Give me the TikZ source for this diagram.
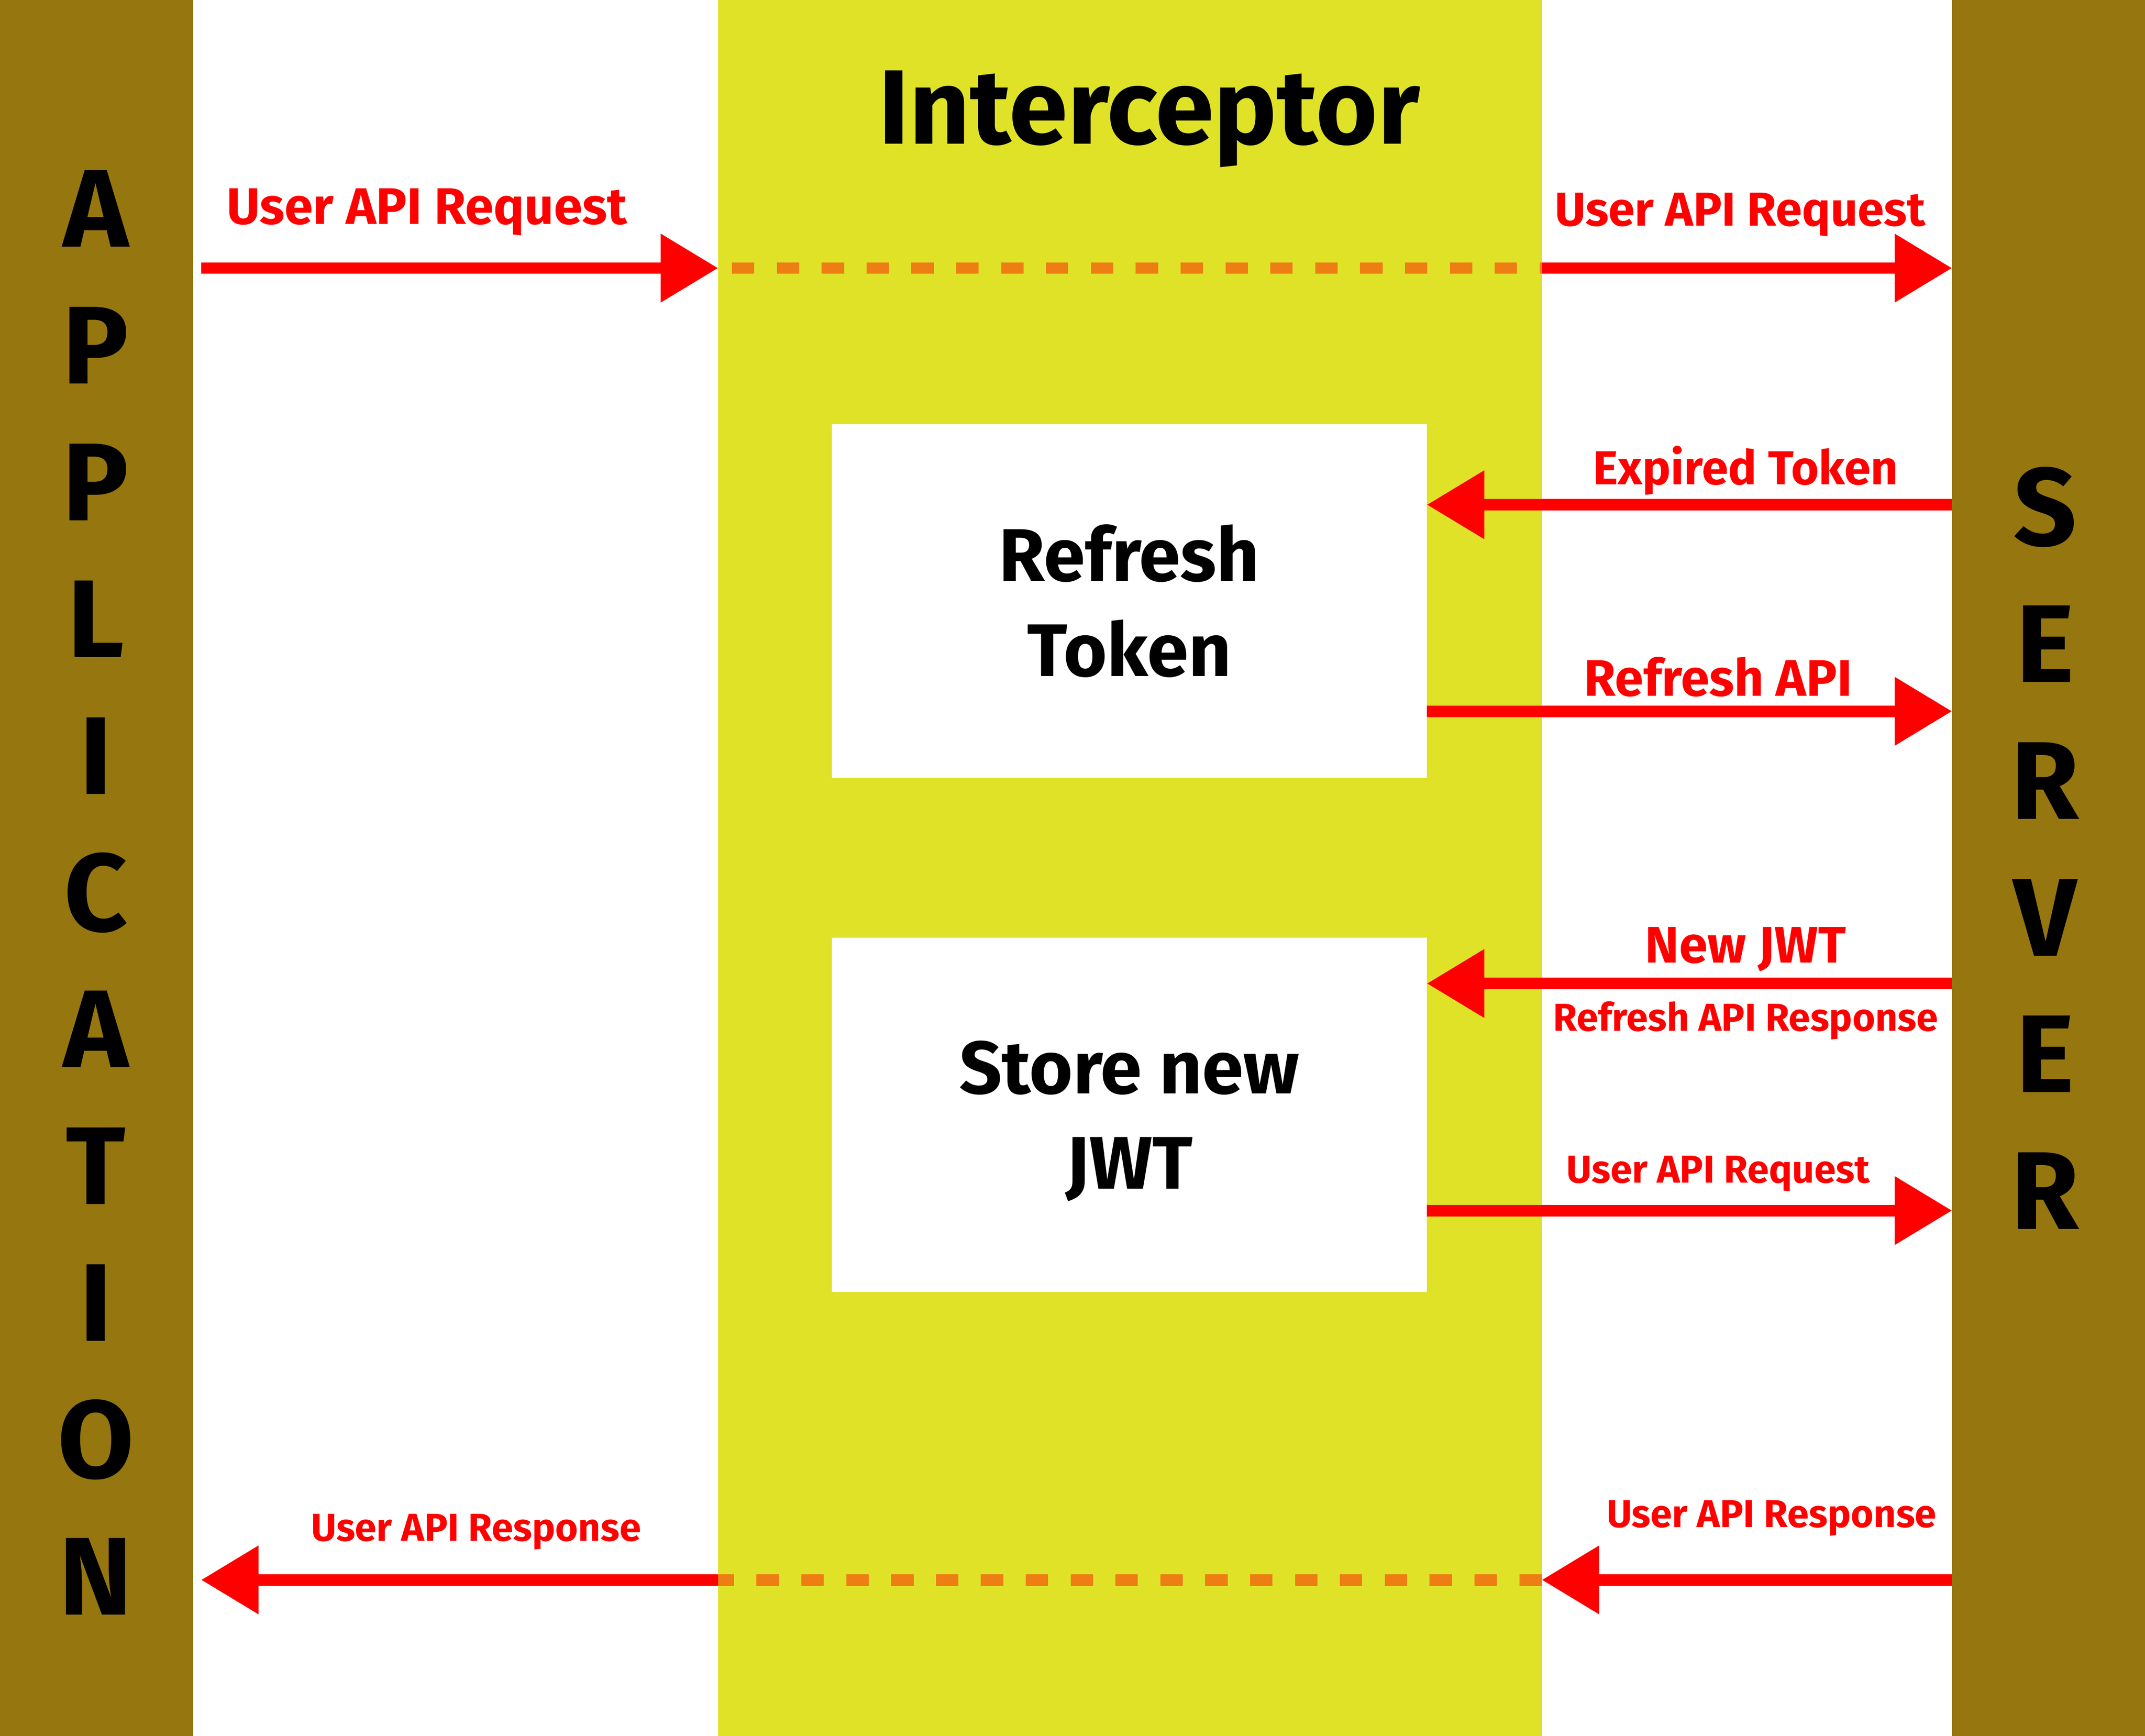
\documentclass[tikz,border=0pt]{standalone}
\usepackage{fontspec}
\setmainfont{Fira Sans}
\usetikzlibrary{arrows.meta}
\definecolor{barbrown}{RGB}{150,118,14}
\definecolor{bandyellow}{RGB}{224,226,40}
\definecolor{dashorange}{RGB}{238,125,20}
\tikzset{
  bar/.style={fill=barbrown, minimum width=1.41cm, minimum height=12.69cm, inner sep=0pt, outer sep=0pt},
  band/.style={fill=bandyellow, minimum width=6.02cm, minimum height=12.69cm, inner sep=0pt, outer sep=0pt},
  bigletters/.style={font=\bfseries\fontsize{23}{28.45}\selectfont, align=center, inner sep=0pt},
  title/.style={font=\bfseries\fontsize{22}{26}\selectfont},
  box/.style={fill=white, minimum width=4.35cm, minimum height=2.59cm, inner sep=0pt, outer sep=0pt, align=center, font=\bfseries\fontsize{15.5}{19.8}\selectfont},
  msg/.style={red, line width=2.4pt, -{Triangle[length=4.2mm, width=4.8mm]}},
  pass/.style={dashorange, line width=2.4pt, dash pattern=on 1.64mm off 1.64mm},
  biglabel/.style={red, font=\bfseries\fontsize{10.7}{13}\selectfont},
  midlabel/.style={red, font=\bfseries\fontsize{9.9}{12}\selectfont},
  smalllabel/.style={red, font=\bfseries\fontsize{8.1}{10}\selectfont}
}
\begin{document}
\begin{tikzpicture}
\useasboundingbox (0,0) rectangle (15.68,12.69);
\fill[white] (0,0) rectangle (15.68,12.69);
% lanes
\node[band] (icpt) at (8.26,6.345) {};
\node[bar] (app) at (0.705,6.345) {};
\node[bar] (srv) at (14.975,6.345) {};
\node[bigletters] (applbl) at (0.70,6.165) {A\\P\\P\\L\\I\\C\\A\\T\\I\\O\\N};
\node[bigletters] (srvlbl) at (14.95,6.49) {S\\E\\R\\V\\E\\R};
\node[title] (ttl) at (8.40,11.82) {Interceptor};
% boxes
\node[box] (rt) at (8.255,8.295) {Refresh\\Token};
\node[box] (sj) at (8.255,4.54) {Store new\\\smash{JWT}};
% arrow ends
\coordinate (req0) at (1.47,10.73);
\coordinate (req1) at (5.25,10.73);
\coordinate (req2) at (11.27,10.73);
\coordinate (req3) at (14.27,10.73);
\coordinate (exp0) at (14.27,9.00);
\coordinate (ref0) at (14.27,7.49);
\coordinate (jwt0) at (14.27,5.50);
\coordinate (req4) at (14.27,3.84);
\coordinate (res3) at (14.27,1.14);
\coordinate (res2) at (11.27,1.14);
\coordinate (res1) at (5.25,1.14);
\coordinate (res0) at (1.47,1.14);
% request
\draw[msg] (req0) -- (req1);
\draw[pass] ([xshift=1mm]req1) -- (req2);
\draw[msg] (req2) -- (req3);
\node[biglabel] (lreq1) at (3.12,11.14) {User API Request};
\node[midlabel] (lreq2) at (12.72,11.12) {User API Request};
% refresh
\draw[msg] (exp0) -- (rt.east |- exp0);
\node[midlabel] (lexp) at (12.76,9.25) {Expired Token};
\draw[msg] (rt.east |- ref0) -- (ref0);
\node[biglabel] (lref) at (12.56,7.74) {Refresh API};
% store
\draw[msg] (jwt0) -- (sj.east |- jwt0);
\node[biglabel] (ljwt) at (12.76,5.75) {New JWT};
\node[smalllabel] (lrres) at (12.76,5.23) {Refresh API Response};
\draw[msg] (sj.east |- req4) -- (req4);
\node[smalllabel] (lreq3) at (12.56,4.11) {User API Request};
% response
\draw[msg] (res3) -- (res2);
\draw[pass] (res2) -- (res1);
\draw[msg] (res1) -- (res0);
\node[smalllabel] (lres2) at (12.95,1.59) {User API Response};
\node[smalllabel] (lres1) at (3.48,1.49) {User API Response};
\end{tikzpicture}
\end{document}
